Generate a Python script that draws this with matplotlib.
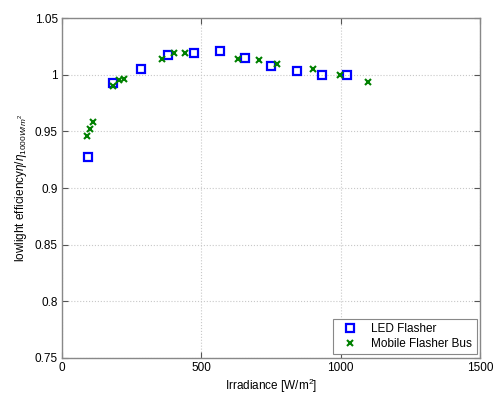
import matplotlib
matplotlib.use('Agg')
import matplotlib.pyplot as plt

plt.rcParams['font.family'] = ['Liberation Sans', 'DejaVu Sans']
plt.rcParams['mathtext.fontset'] = 'custom'
plt.rcParams['mathtext.rm'] = 'Liberation Sans'
plt.rcParams['mathtext.it'] = 'Liberation Sans:italic'

# LED Flasher
led_x = [93, 183, 284, 381, 475, 568, 658, 748, 842, 932, 1022]
led_y = [0.927, 0.993, 1.005, 1.017, 1.019, 1.021, 1.015, 1.008, 1.003, 1.000, 1.000]

# Mobile Flasher Bus
bus_x = [90, 100, 113, 183, 203, 222, 360, 400, 442, 633, 708, 770, 899, 996, 1097]
bus_y = [0.946, 0.952, 0.958, 0.990, 0.995, 0.996, 1.014, 1.019, 1.019, 1.014,
         1.013, 1.009, 1.005, 1.000, 0.9936]

xticks = [0, 500, 1000, 1500]
yticks = [0.75, 0.8, 0.85, 0.9, 0.95, 1, 1.05]

fig = plt.figure(figsize=(4.94, 3.96), dpi=100)
ax = fig.add_axes([0.1255, 0.096, 0.8465, 0.8585])

ax.plot(led_x, led_y, 's', mfc='none', mec='#0000ff', mew=1.6, ms=6, label='LED Flasher')
ax.plot(bus_x, bus_y, 'x', color='#008000', mew=1.5, ms=5, label='Mobile Flasher Bus')

ax.set_xlim(0, 1500)
ax.set_ylim(0.75, 1.05)
ax.set_xticks(xticks)
ax.set_xticklabels([str(t) for t in xticks])
ax.set_yticks(yticks)
ax.set_yticklabels(['0.75', '0.8', '0.85', '0.9', '0.95', '1', '1.05'])
ax.tick_params(direction='in', top=True, right=True, labelsize=8.5, length=4,
               color='#555555', pad=3)
ax.grid(True, linestyle=':', color='#c8c8c8', linewidth=0.8)
for s in ax.spines.values():
    s.set_color('#888888')
    s.set_linewidth(1.0)

ax.set_xlabel('Irradiance [W/m$^2$]', fontsize=8.5, labelpad=2)
ax.set_ylabel(r'lowlight efficiency$\eta/\eta_{1000W/m^2}$', fontsize=8.5)

leg = ax.legend(loc='lower right', fontsize=8.5, fancybox=False, framealpha=1,
                edgecolor='#888888', borderaxespad=0.3, handletextpad=0.8,
                labelspacing=0.2)
leg.get_frame().set_linewidth(0.8)

fig.savefig('out.png', dpi=100)
